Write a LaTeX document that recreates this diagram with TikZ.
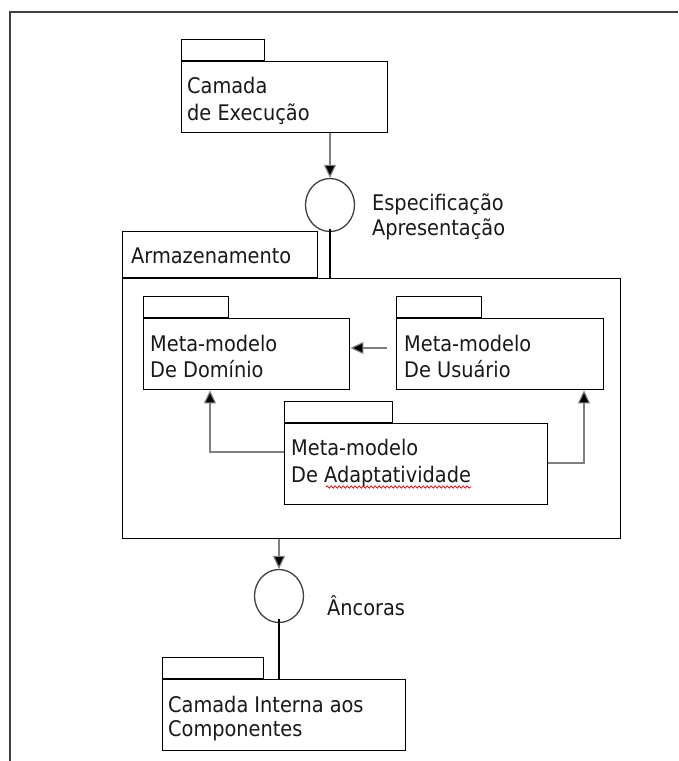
\documentclass[tikz,border=0pt]{standalone}
\usepackage{fontspec}
\setmainfont{DejaVu Sans Condensed}
\usetikzlibrary{arrows.meta,shapes.geometric,decorations.pathmorphing}
\begin{document}
\begin{tikzpicture}[x=1pt,y=-1pt,
  pkgbody/.style={draw=black,line width=1.4pt,fill=white,anchor=north west,inner sep=0pt},
  pkgtab/.style={draw=black,line width=1.4pt,fill=white,anchor=south west,inner sep=0pt},
  lbl/.style={anchor=base west,font=\fontsize{21.5}{26}\selectfont,inner sep=0pt,text=black!90},
  iface/.style={draw=black!75,line width=1.3pt,ellipse,minimum width=49pt,minimum height=53pt,inner sep=0pt},
  dep/.style={draw=black!50,line width=1.1pt,-{Triangle[length=13pt,width=12pt,fill=black]}},
  solidline/.style={draw=black,line width=1.4pt},
  framel/.style={draw=black!75,line width=1.5pt},
  squig/.style={draw=red!90!black,line width=0.7pt,decorate,decoration={snake,amplitude=1.2pt,segment length=4pt}}
]
\useasboundingbox (0,0) rectangle (678,761);
% outer frame
\coordinate (ftr) at (678,12);
\coordinate (ftl) at (10,12);
\coordinate (fbl) at (10,761);
\draw[framel] (ftr) -- (ftl) -- (fbl);

% top package
\node[pkgbody,minimum width=206pt,minimum height=71pt] (exec) at (181,61) {};
\node[pkgtab,minimum width=83pt,minimum height=21pt] (exectab) at (exec.north west) {};
\node[lbl] (exect1) at (187,93) {Camada};
\node[lbl] (exect2) at (187,120) {de Execução};

% interface 1
\node[iface] (i1) at (330,205) {};
\node[lbl] (i1l1) at (372,210) {Especificação};
\node[lbl] (i1l2) at (372,235) {Apresentação};
\draw[dep] (i1 |- exec.south) -- (i1.north);

% main box
\node[pkgbody,minimum width=498pt,minimum height=260pt] (main) at (122,278) {};
\node[pkgbody,anchor=south west,minimum width=195pt,minimum height=46pt] (arm) at (main.north west) {};
\node[lbl] (armt) at (131,263) {Armazenamento};
\draw[solidline] ([yshift=3pt]i1.south) -- (i1 |- main.north);

% Dominio
\node[pkgbody,minimum width=206pt,minimum height=71pt] (dom) at (143,318) {};
\node[pkgtab,minimum width=85pt,minimum height=21pt] (domtab) at (dom.north west) {};
\node[lbl] (domt1) at (150,351) {Meta-modelo};
\node[lbl] (domt2) at (150,377) {De Domínio};

% Usuario
\node[pkgbody,minimum width=207pt,minimum height=71pt] (usr) at (396,318) {};
\node[pkgtab,minimum width=85pt,minimum height=21pt] (usrtab) at (usr.north west) {};
\node[lbl] (usrt1) at (404,351) {Meta-modelo};
\node[lbl] (usrt2) at (404,377) {De Usuário};

% Adaptatividade
\node[pkgbody,minimum width=263pt,minimum height=81pt] (adp) at (284,423) {};
\node[pkgtab,minimum width=108pt,minimum height=21pt] (adptab) at (adp.north west) {};
\node[lbl] (adpt1) at (291,455) {Meta-modelo};
\node[lbl] (adpt2) at (291,482) {De Adaptatividade};
\coordinate (sq1) at (326,487);
\coordinate (sq2) at (adpt2.base east);
\draw[squig] (sq1) -- ([yshift=-5pt]sq2);

% dependencies
\coordinate (a1s) at (387,348);
\draw[dep] (a1s) -- (a1s -| dom.east);
\coordinate (c2) at (210,452);
\draw[dep] (c2 -| adp.west) -- (c2) -- (c2 |- dom.south);
\coordinate (c3) at (584,463);
\draw[dep] (c3 -| adp.east) -- (c3) -- (c3 |- usr.south);

% interface 2
\node[iface] (i2) at (279,596) {};
\node[lbl] (i2l) at (327,615) {Âncoras};
\draw[dep] (i2 |- main.south) -- (i2.north);

% bottom package
\node[pkgbody,minimum width=243pt,minimum height=71pt] (bot) at (162,679) {};
\node[pkgtab,minimum width=101pt,minimum height=21pt] (bottab) at (bot.north west) {};
\node[lbl] (bott1) at (168,712) {Camada Interna aos};
\node[lbl] (bott2) at (168,736) {Componentes};
\draw[solidline] ([yshift=4pt]i2.south) -- (i2 |- bot.north);
\end{tikzpicture}
\end{document}
